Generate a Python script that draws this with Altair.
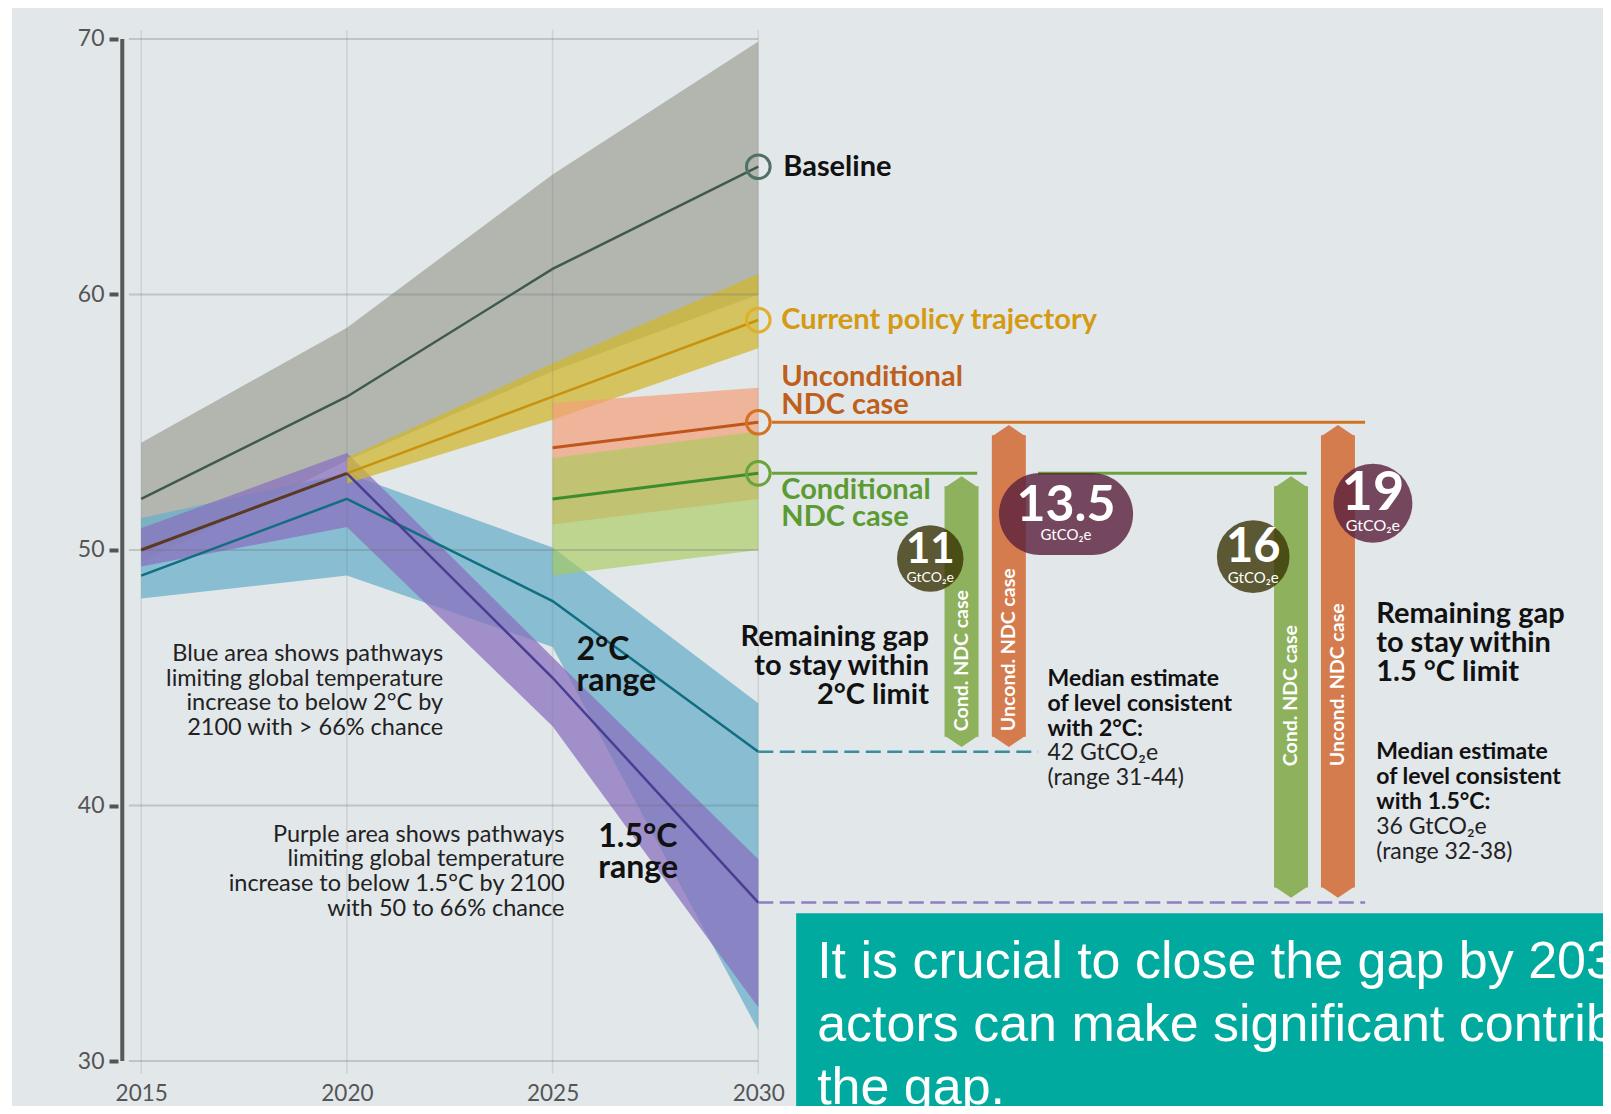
import math
import altair as alt
import pandas as pd

# ---------------- data (GtCO2e) ----------------
years = [2015, 2020, 2025, 2030]
baseline_median = [52.0, 56.0, 61.0, 65.0]
baseline_low = [49.5, 53.5, 57.0, 60.0]
baseline_high = [54.2, 58.7, 64.7, 69.9]

history_years = [2015, 2020]
history_values = [50.0, 53.0]

policy_years = [2020, 2025, 2030]
policy_median = [53.0, 56.0, 59.0]
policy_low = [52.6, 55.1, 57.9]
policy_high = [53.6, 57.3, 60.8]

ndc_years = [2025, 2030]
uncond_median = [54.0, 55.0]
uncond_low = [51.0, 52.0]
uncond_high = [55.75, 56.35]
cond_median = [52.0, 53.0]
cond_low = [49.0, 50.0]
cond_high = [53.6, 54.65]

two_median = [49.0, 52.0, 48.0, 42.1]
two_low = [48.1, 49.0, 46.2, 31.2]
two_high = [51.25, 53.0, 50.1, 44.0]

onefive_years = [2020, 2025, 2030]
onefive_median = [53.0, 45.0, 36.2]
onefive_low = [49.35, 50.9, 43.1, 32.1]
onefive_high = [50.85, 53.8, 45.8, 37.9]

y_ticks = [30, 40, 50, 60, 70]
x_ticks = [2015, 2020, 2025, 2030]

gap_values = ["11", "13.5", "16", "19"]
gap_unit = "GtCO₂e"
bar_names = ["Cond. NDC case", "Uncond. NDC case", "Cond. NDC case", "Uncond. NDC case"]

# ---------------- layout ----------------
W, H = 1591, 1098
X_DOMAIN = [2011.981, 2050.411]
Y_DOMAIN = [28.239, 71.213]
FONT = "Lato"
SANS = "'Liberation Sans', Arial, sans-serif"
BG = "#e2e7ea"

XS = alt.Scale(domain=X_DOMAIN, nice=False, zero=False)
YS = alt.Scale(domain=Y_DOMAIN, nice=False, zero=False)
XA = alt.Axis(values=x_ticks, format="d", grid=False, domain=False, ticks=False,
              labelFont=FONT, labelFontSize=22.5, labelColor="#555555", labelPadding=21,
              labelFlush=False, offset=-45, title=None)
YA = alt.Axis(values=y_ticks, grid=False, domain=False, tickColor="#555555", tickWidth=4,
              tickSize=9, labelFont=FONT, labelFontSize=23, labelColor="#555555",
              labelPadding=5, offset=-106, title=None)


def ex(f="x"):
    return alt.X(f"{f}:Q", scale=XS, axis=XA, title=None)


def ey(f="y"):
    return alt.Y(f"{f}:Q", scale=YS, axis=YA, title=None)


def band(xs, lo, hi, color, op):
    d = pd.DataFrame({"x": xs, "lo": lo, "hi": hi})
    return alt.Chart(d).mark_area(color=color, opacity=op).encode(
        x=ex(), y=ey("lo"), y2=alt.Y2("hi"))


def line(xs, ys, color, w):
    d = pd.DataFrame({"x": xs, "y": ys})
    return alt.Chart(d).mark_line(color=color, strokeWidth=w).encode(x=ex(), y=ey())


def hseg(x0, x1, y, color, w, dash=None):
    d = pd.DataFrame({"x": [x0], "x2": [x1], "y": [y]})
    kw = dict(color=color, strokeWidth=w)
    if dash:
        kw["strokeDash"] = dash
    return alt.Chart(d).mark_rule(**kw).encode(x=ex(), x2=alt.X2("x2"), y=ey())


def text(x, y, s, size, color="#111111", weight="normal", align="left", dx=0, dy=0,
         lh=None, font=FONT, clip=False):
    """(x, y) is the centre of the whole text block."""
    n = s.count("\n") + 1
    lh = lh or round(size * 1.2)
    d = pd.DataFrame({"x": [x], "y": [y], "t": [s]})
    kw = dict(font=font, fontSize=size, color=color, fontWeight=weight, align=align,
              baseline="middle", dx=dx, dy=dy - (n - 1) * lh / 2, lineBreak="\n",
              lineHeight=lh)
    if clip:
        kw["clip"] = True
    return alt.Chart(d).mark_text(**kw).encode(x=ex(), y=ey(), text="t:N")


layers = []

# ranges
layers.append(band(years, baseline_low, baseline_high, "#a7aa9f", 0.8))
layers.append(band(years, two_low, two_high, "#69afca", 0.75))
layers.append(band(years, onefive_low, onefive_high, "#8a72bd", 0.75))
layers.append(band(policy_years, policy_low, policy_high, "#cfb72f", 0.75))
layers.append(band(ndc_years, uncond_low, uncond_high, "#f5a079", 0.7))
layers.append(band(ndc_years, cond_low, cond_high, "#a7cc5a", 0.64))

# grid
hg = pd.DataFrame({"y": y_ticks})
hg["x"] = 2014.7
hg["x2"] = x_ticks[-1]
layers.append(alt.Chart(hg).mark_rule(color="#6e7378", opacity=0.3, strokeWidth=2).encode(
    x=ex(), x2=alt.X2("x2"), y=ey()))
vg = pd.DataFrame({"x": x_ticks})
vg["y"] = 29.5
vg["y2"] = 70.35
layers.append(alt.Chart(vg).mark_rule(color="#6e7378", opacity=0.18, strokeWidth=1.5).encode(
    x=ex(), y=ey(), y2=alt.Y2("y2")))

# median lines
layers.append(line(years, baseline_median, "#3f5a4c", 2.5))
layers.append(line(policy_years, policy_median, "#c9920e", 2.5))
layers.append(line(ndc_years, uncond_median, "#c0561c", 3))
layers.append(line(ndc_years, cond_median, "#3e8c2c", 3))
layers.append(line(years, two_median, "#0f6e80", 2.5))
layers.append(line(onefive_years, onefive_median, "#4a3e92", 2.5))
layers.append(line(history_years, history_values, "#5a3a20", 3))

# extensions to the right of 2030
layers.append(hseg(2030.33, 2044.75, uncond_median[-1], "#d2731f", 3))
layers.append(hseg(2030.33, 2035.32, cond_median[-1], "#6aa23c", 3))
layers.append(hseg(2036.8, 2043.33, cond_median[-1], "#6aa23c", 3))
layers.append(hseg(2030, 2036.8, two_median[-1], "#3a8da0", 2.5, dash=[15, 6.5]))
layers.append(hseg(2030, 2044.75, onefive_median[-1], "#8e7fc4", 2.5, dash=[15, 6.5]))

# open circles at 2030
circ = pd.DataFrame({
    "x": [2030] * 4,
    "y": [baseline_median[-1], policy_median[-1], uncond_median[-1], cond_median[-1]],
    "c": ["#52706a", "#e0b02c", "#d2731f", "#6aa23c"],
})
layers.append(alt.Chart(circ).mark_point(shape="circle", filled=False, size=560, strokeWidth=3,
                                         opacity=1).encode(
    x=ex(), y=ey(), color=alt.Color("c:N", scale=None)))

# gap arrows
bars = pd.DataFrame({
    "x": [2034.94, 2036.09, 2042.95, 2044.09],
    "top": [cond_median[-1], uncond_median[-1], cond_median[-1], uncond_median[-1]],
    "bottom": [two_median[-1], two_median[-1], onefive_median[-1], onefive_median[-1]],
    "c": ["#8db15d", "#d57c4f", "#8db15d", "#d57c4f"],
})
layers.append(alt.Chart(bars).mark_bar(size=34, yOffset=13, y2Offset=-15).encode(
    x=ex(), y=ey("top"), y2=alt.Y2("bottom"), color=alt.Color("c:N", scale=None)))
layers.append(alt.Chart(bars).mark_point(shape="M-1,0.08L0,-0.6L1,0.08Z", size=1156, filled=True,
                                         opacity=1, strokeWidth=0, yOffset=13).encode(
    x=ex(), y=ey("top"), color=alt.Color("c:N", scale=None)))
layers.append(alt.Chart(bars).mark_point(shape="M-1,-0.08L0,0.6L1,-0.08Z", size=1156, filled=True,
                                         opacity=1, strokeWidth=0, yOffset=-15).encode(
    x=ex(), y=ey("bottom"), color=alt.Color("c:N", scale=None)))
bt = pd.DataFrame({"x": bars["x"], "y": [42.91, 42.91, 41.54, 41.54], "t": bar_names})
layers.append(alt.Chart(bt).mark_text(angle=270, align="left", baseline="middle", font=FONT,
                                      fontSize=19.5, fontWeight="bold", color="white").encode(
    x=ex(), y=ey(), text="t:N"))

# gap badges
bc = pd.DataFrame({
    "x": [2034.18, 2042.03, 2044.94],
    "y": [49.67, 49.74, 51.83],
    "s": [math.pi * 37.5 ** 2, math.pi * 41 ** 2, math.pi * 44.5 ** 2],
    "c": ["#3a3405", "#3a3405", "#5a1f3c"],
})
layers.append(alt.Chart(bc).mark_point(shape="circle", filled=True, opacity=0.8, strokeWidth=0).encode(
    x=ex(), y=ey(), size=alt.Size("s:Q", scale=None), color=alt.Color("c:N", scale=None)))
pill = pd.DataFrame({"x": [2035.85], "x2": [2039.11], "y": [53.01], "y2": [49.8]})
layers.append(alt.Chart(pill).mark_rect(color="#5a1f3c", opacity=0.8, cornerRadius=41).encode(
    x=ex(), x2=alt.X2("x2"), y=ey(), y2=alt.Y2("y2")))

badge_pos = [(2034.18, 49.67, 42, 14, -8, 20), (2037.48, 51.41, 50, 15, -8, 21),
             (2042.03, 49.74, 47, 15, -9, 21), (2044.94, 51.83, 54, 16, -9, 23)]
for val, (bx, by, fs, us, d1, d2) in zip(gap_values, badge_pos):
    layers.append(text(bx, by, val, fs, "white", "bold", "center", dy=d1))
    layers.append(text(bx, by, gap_unit, us, "white", "normal", "center", dy=d2))

# series labels
layers.append(text(2030, baseline_median[-1], "Baseline", 29, "#111111", "bold", dx=25))
layers.append(text(2030, policy_median[-1], "Current policy trajectory", 29, "#d49a11", "bold", dx=23))
layers.append(text(2030, uncond_median[-1], "Unconditional\nNDC case", 29, "#bf5f1c", "bold",
                   dx=23, dy=-31.6, lh=28))
layers.append(text(2030, cond_median[-1], "Conditional\nNDC case", 29, "#5c9b32", "bold",
                   dx=23, dy=30, lh=27))

# annotations
layers.append(text(2034.15, 45.46, "Remaining gap\nto stay within\n2°C limit", 29, "#111111",
                   "bold", "right", lh=29))
layers.append(text(2045.02, 46.36, "Remaining gap\nto stay within\n1.5 °C limit", 29, "#111111",
                   "bold", "left", lh=29))
layers.append(text(2037.03, 43.99, "Median estimate\nof level consistent\nwith 2°C:", 23,
                   "#111111", "bold", lh=25))
layers.append(text(2037.03, 41.55, "42 GtCO₂e\n(range 31-44)", 23, "#222222", "normal", lh=25))
layers.append(text(2045.02, 41.12, "Median estimate\nof level consistent\nwith 1.5°C:", 23,
                   "#111111", "bold", lh=25))
layers.append(text(2045.02, 38.67, "36 GtCO₂e\n(range 32-38)", 23, "#222222", "normal", lh=25))
layers.append(text(2025.58, 45.48, "2°C\nrange", 32, "#111111", "bold", lh=31))
layers.append(text(2026.11, 38.15, "1.5°C\nrange", 32, "#111111", "bold", lh=31))
layers.append(text(2022.34, 44.48,
                   "Blue area shows pathways\nlimiting global temperature\nincrease to below 2°C by\n2100 with > 66% chance",
                   23.5, "#222222", "normal", "right", lh=24.7))
layers.append(text(2025.29, 37.41,
                   "Purple area shows pathways\nlimiting global temperature\nincrease to below 1.5°C by 2100\nwith 50 to 66% chance",
                   23.5, "#222222", "normal", "right", lh=24.7))

# message box
box = pd.DataFrame({"x": [2030.92], "x2": [X_DOMAIN[1] + 1], "y": [35.78], "y2": [Y_DOMAIN[0] - 1]})
layers.append(alt.Chart(box).mark_rect(color="#00aa9f", clip=True).encode(
    x=ex(), x2=alt.X2("x2"), y=ey(), y2=alt.Y2("y2")))
layers.append(text(2031.43, 31.41,
                   "It is crucial to close the gap by 2030. Non-state\nactors can make significant contributions to closing\nthe gap.",
                   52, "white", "normal", "left", lh=63, font=SANS, clip=True))

# y axis line
ax = pd.DataFrame({"x": [2014.54], "y": [min(y_ticks)], "y2": [max(y_ticks)]})
layers.append(alt.Chart(ax).mark_rule(color="#595959", strokeWidth=4).encode(
    x=ex(), y=ey(), y2=alt.Y2("y2")))

chart = alt.layer(*layers).properties(
    width=W, height=H,
    autosize=alt.AutoSizeParams(type="none"),
    padding={"left": 4, "right": 0, "top": 0, "bottom": 0},
    background="white",
).configure_view(fill=BG, strokeWidth=0)

chart.save("out.html", embed_options={"renderer": "svg", "actions": False})
